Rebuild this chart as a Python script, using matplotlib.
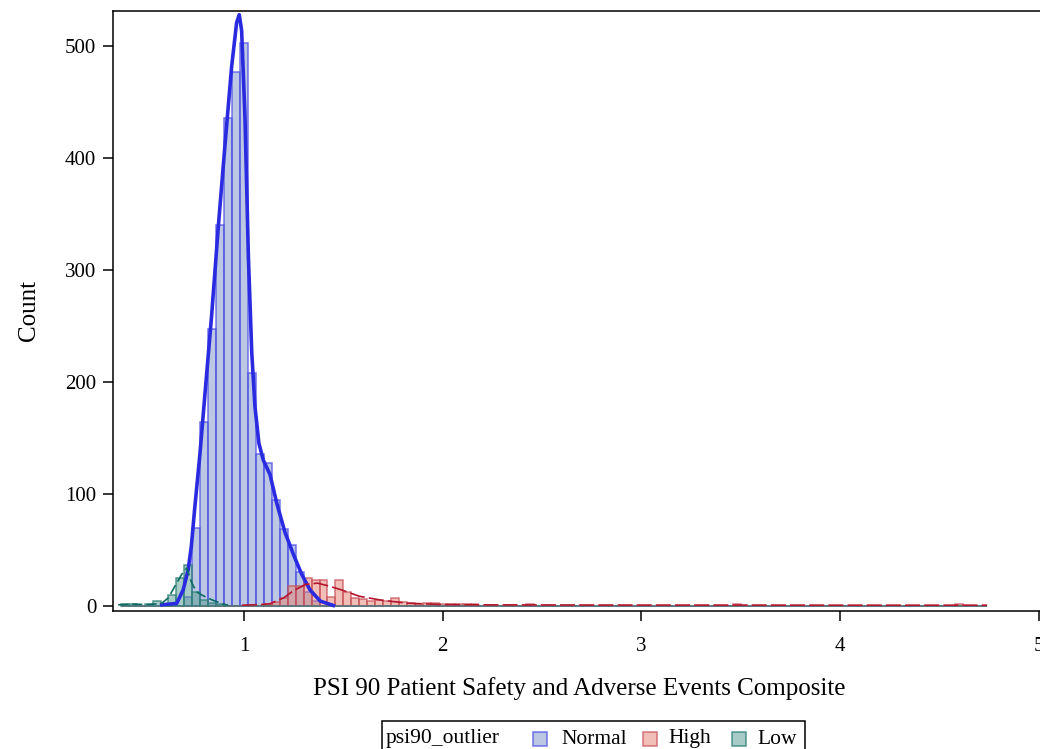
import numpy as np
import matplotlib.pyplot as plt
from matplotlib.patches import Rectangle

plt.rcParams['font.family'] = ['Liberation Serif', 'DejaVu Serif']

# histogram bins (left edges) and counts per outlier group
bin_width = 0.04
normal_bins = [0.70, 0.74, 0.78, 0.82, 0.86, 0.90, 0.94, 0.98, 1.02, 1.06,
               1.10, 1.14, 1.18, 1.22, 1.26, 1.30, 1.34]
normal_counts = [8, 69, 164, 247, 340, 436, 477, 503, 208, 135,
                 127, 94, 68, 54, 30, 12, 4]

high_bins = [1.10, 1.14, 1.18, 1.22, 1.26, 1.30, 1.34, 1.38, 1.42, 1.46,
             1.50, 1.54, 1.58, 1.62, 1.66, 1.70, 1.74, 1.78, 1.82, 1.86,
             1.90, 1.94, 1.98, 2.02, 2.06, 2.10, 2.14, 2.42, 3.46, 4.58]
high_counts = [1, 3, 7, 17, 17, 25, 23, 23, 8, 23,
               12, 7, 6, 4, 5, 4, 7, 3, 2, 1,
               2, 2, 1, 1, 1, 1, 1, 1, 1, 1]

low_bins = [0.38, 0.42, 0.50, 0.54, 0.58, 0.62, 0.66, 0.70, 0.74, 0.78,
            0.82, 0.86]
low_counts = [1, 1, 1, 4, 1, 9, 25, 36, 12, 5, 2, 1]

# kernel density curves, scaled to counts
normal_kde_x = [0.586, 0.661, 0.694, 0.719, 0.735, 0.751, 0.778, 0.803, 0.837,
                0.870, 0.904, 0.938, 0.963, 0.976, 0.988, 1.005, 1.022, 1.039,
                1.055, 1.075, 1.097, 1.131, 1.164, 1.206, 1.248, 1.290, 1.332,
                1.383, 1.45]
normal_kde_y = [0.7, 1.8, 14, 32, 53, 85, 135, 188, 259,
                337, 411, 482, 521, 528, 514, 436, 312, 226,
                178, 145, 130, 117, 92, 65.5, 46, 28, 14,
                4, 0]

high_kde_x = [0.99, 1.08, 1.13, 1.20, 1.25, 1.31, 1.37, 1.43, 1.50, 1.58,
              1.70, 1.83, 2.00, 2.20, 2.50, 3.00, 3.50, 4.00, 4.50, 4.74]
high_kde_y = [0.3, 0.8, 1.5, 6.9, 13.4, 18.8, 20, 17.3, 13.4, 8.3,
              4.5, 2.0, 0.9, 0.6, 0.5, 0.4, 0.4, 0.3, 0.3, 0.3]

low_kde_x = [0.367, 0.44, 0.526, 0.586, 0.62, 0.653, 0.687, 0.712, 0.735,
             0.76, 0.793, 0.835, 0.896, 0.92]
low_kde_y = [0.6, 1.2, 0.9, 2, 7, 17.5, 28, 33.5, 21,
             12.4, 8.9, 5.3, 1.2, 0.3]

groups = ['Normal', 'High', 'Low']
fills = {'Normal': (0.475, 0.569, 0.788, 0.5),
         'High': (0.898, 0.506, 0.443, 0.5),
         'Low': (0.318, 0.6, 0.569, 0.5)}
edges = {'Normal': (0.29, 0.29, 0.90, 0.75),
         'High': (0.78, 0.31, 0.35, 0.75),
         'Low': (0.18, 0.50, 0.46, 0.8)}

# every group is drawn across the whole bin range, empty bins included
grid = np.round(np.arange(0.38, 4.74, bin_width), 2)


def full_counts(bins, counts):
    out = np.zeros(len(grid))
    for b, c in zip(bins, counts):
        out[np.argmin(np.abs(grid - b))] = c
    return out


hist = {'Normal': full_counts(normal_bins, normal_counts),
        'High': full_counts(high_bins, high_counts),
        'Low': full_counts(low_bins, low_counts)}

fig = plt.figure(figsize=(10.4, 7.49), dpi=100)
ax = fig.add_axes([0.10865, 0.18425, 0.8971, 0.80107])

for g in groups:
    ax.bar(grid, hist[g], width=bin_width, align='edge',
           facecolor=fills[g], edgecolor=edges[g], linewidth=1.1)

ax.plot(normal_kde_x, normal_kde_y, color='#2a2ae0', lw=2.6, zorder=5,
        solid_joinstyle='round')
ax.plot(high_kde_x, high_kde_y, color='#b5162e', lw=1.2,
        dashes=(9, 2.5), zorder=5)
ax.plot(low_kde_x, low_kde_y, color='#0b6b62', lw=1.2,
        dashes=(6, 2.5), zorder=5)

ax.set_xlim(0.3407, 5.036)
ax.set_ylim(-4.9, 531.3)
ax.set_xticks([1, 2, 3, 4, 5])
ax.set_yticks([0, 100, 200, 300, 400, 500])
ax.tick_params(direction='out', length=7, width=1.1, labelsize=15)
ax.tick_params(axis='x', pad=12)
ax.tick_params(axis='y', pad=5)
for s in ax.spines.values():
    s.set_linewidth(1.1)

ax.set_xlabel('PSI 90 Patient Safety and Adverse Events Composite',
              fontsize=18, labelpad=15)
ax.set_ylabel('Count', fontsize=18, labelpad=18)

# legend row along the bottom edge
W, H = 1040.0, 749.0
fig.add_artist(Rectangle((382 / W, -0.02), (805 - 382) / W,
                         0.02 + (749 - 721) / H, transform=fig.transFigure,
                         facecolor='white', edgecolor='black', lw=1.1))
ty = 1 - 739 / H
fig.text(386 / W, ty, 'psi90_outlier', fontsize=15.5, va='center', ha='left')
for g, px, tx in [('Normal', 533, 561), ('High', 643, 668), ('Low', 732, 757)]:
    fig.add_artist(Rectangle((px / W, ty - 7 / H), 14 / W, 14 / H,
                             transform=fig.transFigure, facecolor=fills[g],
                             edgecolor=edges[g], lw=1.1))
    fig.text(tx / W, ty, g, fontsize=15.5, va='center', ha='left')

fig.savefig('out.png', dpi=100)
